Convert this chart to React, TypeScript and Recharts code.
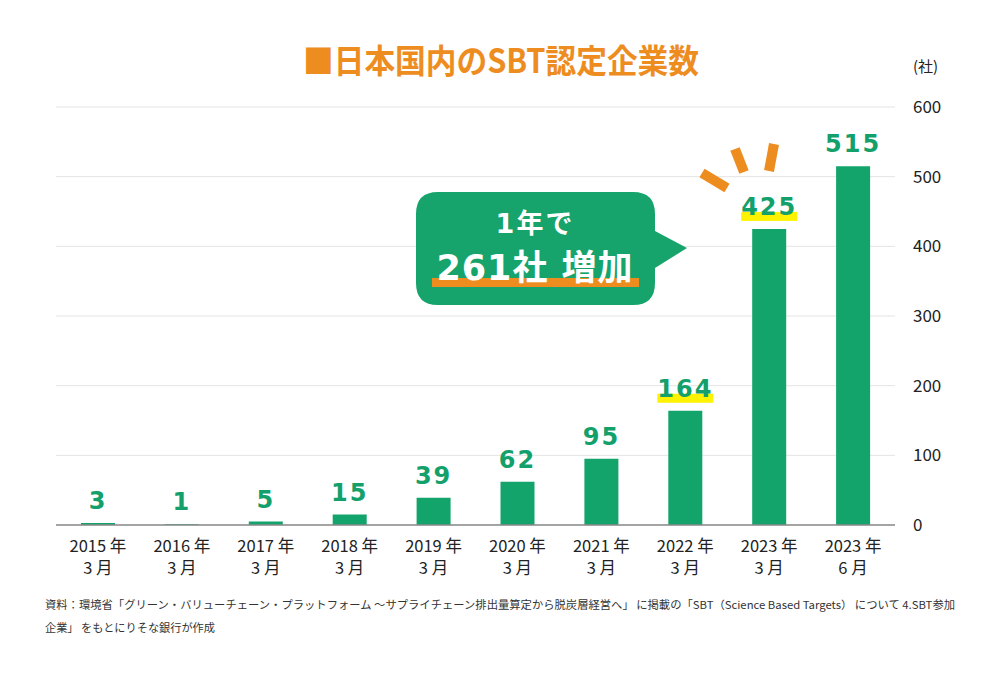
import { BarChart, Bar, XAxis, YAxis, CartesianGrid, LabelList } from "recharts";

const YEARS = ["2015 年", "2016 年", "2017 年", "2018 年", "2019 年", "2020 年", "2021 年", "2022 年", "2023 年", "2023 年"];
const MONTHS = ["3 月", "3 月", "3 月", "3 月", "3 月", "3 月", "3 月", "3 月", "3 月", "6 月"];
const COMPANIES = [3, 1, 5, 15, 39, 62, 95, 164, 425, 515];
const Y_TICKS = [0, 100, 200, 300, 400, 500, 600];
// labels that get a yellow marker under them
const HIGHLIGHTED = ["2022 年\n3 月", "2023 年\n3 月"];

const GREEN = "#12a46b";
const ORANGE = "#ee8d1f";
const CJK = "'Noto Sans CJK JP', 'Noto Sans', sans-serif";
const DIGITS = "'DejaVu Sans', 'Noto Sans CJK JP', sans-serif";

const data = YEARS.map((y, i) => ({
  label: `${y}\n${MONTHS[i]}`,
  value: COMPANIES[i],
}));

function XTick({ x, y, payload }: any) {
  const [year, month] = String(payload.value).split("\n");
  return (
    <text x={x} y={y} textAnchor="middle" fontSize={16.5} fill="#222" fontFamily={CJK}>
      <tspan x={x} dy={19}>{year}</tspan>
      <tspan x={x} dy={22}>{month}</tspan>
    </text>
  );
}

function YTick({ x, y, payload }: any) {
  return (
    <text x={x} y={y} dy={6} textAnchor="start" fontSize={17} fill="#222" fontFamily={CJK}>
      {payload.value}
    </text>
  );
}

function ValueLabel(props: any) {
  const { x, y, width, value, index } = props;
  const cx = x + width / 2;
  const base = y - 14;
  const marked = HIGHLIGHTED.includes(data[index]?.label);
  return (
    <g>
      {marked && <rect x={cx - 28} y={base - 3} width={56} height={9} fill="#fff200" />}
      <text
        x={cx}
        y={base}
        textAnchor="middle"
        fontSize={24}
        fontWeight={700}
        letterSpacing={2}
        fill="#13a06a"
        fontFamily={DIGITS}
      >
        {value}
      </text>
    </g>
  );
}

export default function App() {
  return (
    <div
      style={{
        position: "absolute",
        left: 0,
        top: 0,
        width: 1000,
        height: 676,
        background: "#fff",
        fontFamily: CJK,
      }}
    >
      <BarChart
        width={1000}
        height={676}
        data={data}
        margin={{ top: 107, right: 0, left: 56, bottom: 91 }}
      >
        <CartesianGrid vertical={false} stroke="#e4e4e4" strokeWidth={1} />
        <XAxis
          dataKey="label"
          height={60}
          interval={0}
          tickLine={false}
          axisLine={{ stroke: "#8a8a8a", strokeWidth: 1.5 }}
          tick={<XTick />}
        />
        <YAxis
          orientation="right"
          width={105}
          domain={[0, 600]}
          ticks={Y_TICKS}
          axisLine={false}
          tickLine={false}
          tickMargin={12}
          tick={<YTick />}
        />
        <Bar dataKey="value" fill={GREEN} barSize={34} isAnimationActive={false}>
          <LabelList dataKey="value" content={<ValueLabel />} />
        </Bar>
      </BarChart>

      {/* title, unit, callout, footnote */}
      <svg
        width={1000}
        height={676}
        style={{ position: "absolute", left: 0, top: 0, pointerEvents: "none" }}
      >
        <text
          x={501}
          y={73}
          textAnchor="middle"
          fontSize={33}
          fontWeight={700}
          fill={ORANGE}
          fontFamily={CJK}
          textLength={396}
          lengthAdjust="spacingAndGlyphs"
        >
          ■日本国内のSBT認定企業数
        </text>
        <text x={913} y={72} fontSize={15} fill="#222" fontFamily={CJK}>
          (社)
        </text>

        {/* burst marks above 425 */}
        <g stroke={ORANGE} strokeWidth={10}>
          <line x1={702} y1={173} x2={727} y2={188} />
          <line x1={735} y1={149} x2={744} y2={172} />
          <line x1={774} y1={144} x2={769} y2={171} />
        </g>

        <path
          d="M 438 192 H 633 Q 655 192 655 214 V 231 L 687 248 L 655 268 V 283 Q 655 305 633 305 H 438 Q 416 305 416 283 V 214 Q 416 192 438 192 Z"
          fill="#17a46c"
        />
        <rect x={432} y={278} width={207} height={9} fill={ORANGE} />
        <text x={535} y={233} textAnchor="middle" fontSize={27} fontWeight={700} fill="#fff" fontFamily={DIGITS} letterSpacing={2}>
          1年で
        </text>
        <text x={535} y={280} textAnchor="middle" fontSize={35} fontWeight={700} fill="#fff" fontFamily={DIGITS} letterSpacing={1}>
          261社 増加
        </text>

        <text
          x={45}
          y={609}
          fontSize={11}
          fill="#333"
          fontFamily={CJK}
          textLength={910}
          lengthAdjust="spacingAndGlyphs"
        >
          資料：環境省「グリーン・バリューチェーン・プラットフォーム ～サプライチェーン排出量算定から脱炭層経営へ」 に掲載の「SBT（Science Based Targets） について 4.SBT参加
        </text>
        <text
          x={45}
          y={632}
          fontSize={11.5}
          fill="#333"
          fontFamily={CJK}
          textLength={170}
          lengthAdjust="spacingAndGlyphs"
        >
          企業」 をもとにりそな銀行が作成
        </text>
      </svg>
    </div>
  );
}
